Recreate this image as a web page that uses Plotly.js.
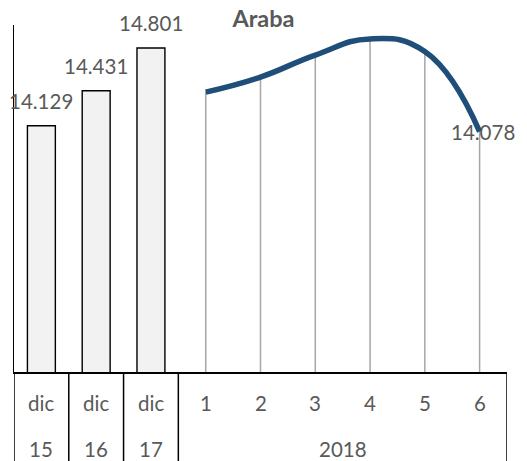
<!DOCTYPE html>
<html>
<head>
<meta charset="utf-8">
<script src="https://cdn.plot.ly/plotly-3.0.1.min.js"></script>
<style>html,body{margin:0;padding:0;background:#fff;}#chart{width:527px;height:461px;}</style>
</head>
<body>
<div id="chart"></div>
<script>
// Data
const categories = ['dic', 'dic', 'dic', '1', '2', '3', '4', '5', '6'];
const groupLabels = ['15', '16', '17', '2018'];
const groupSizes = [1, 1, 1, 6];
const barValues = [14.129, 14.431, 14.801];
const monthValues = [14.42, 14.55, 14.74, 14.88, 14.77, 14.078];
const yMin = 12, yMax = 15;
const titleText = 'Araba';

const FONT = 'Lato, "Open Sans", sans-serif';
const TXT = '#595959';

const barX = barValues.map((v, i) => i);
const monthX = monthValues.map((v, i) => barValues.length + i);

const traces = [
  {
    type: 'bar', x: barX, y: barValues, width: 0.51,
    marker: { color: '#f2f2f2', line: { color: '#000000', width: 1.4 } },
    hoverinfo: 'skip'
  },
  {
    type: 'scatter', mode: 'none', x: monthX, y: monthValues,
    error_y: {
      type: 'data', symmetric: false,
      array: monthValues.map(() => 0),
      arrayminus: monthValues.map(v => v - yMin),
      width: 0, color: '#a6a6a6', thickness: 1.5
    },
    hoverinfo: 'skip'
  },
  {
    type: 'scatter', mode: 'lines', x: monthX, y: monthValues,
    line: { color: '#1f4e79', width: 5.5, shape: 'spline', smoothing: 1.3 },
    hoverinfo: 'skip'
  }
];

const annotations = [];
barValues.forEach((v, i) => {
  annotations.push({ x: barX[i], y: v, xref: 'x', yref: 'y', text: v.toFixed(3),
    showarrow: false, yshift: 25, font: { family: FONT, size: 20.5, color: TXT } });
});
const lastI = monthValues.length - 1;
annotations.push({ x: monthX[lastI], y: monthValues[lastI], xref: 'x', yref: 'y',
  text: monthValues[lastI].toFixed(3), showarrow: false, xshift: 3,
  font: { family: FONT, size: 20.5, color: TXT } });

// category row
categories.forEach((c, i) => {
  annotations.push({ x: i, y: -0.0893, xref: 'x', yref: 'paper', text: c, showarrow: false,
    yanchor: 'middle', font: { family: FONT, size: 20.5, color: TXT } });
});
// group row + separators
const shapes = [];
let start = 0;
shapes.push({ type: 'line', xref: 'x', yref: 'paper', x0: -0.5, x1: -0.5, y0: 0, y1: -0.3,
  line: { color: '#000', width: 1.5 } });
groupLabels.forEach((g, k) => {
  const end = start + groupSizes[k] - 1;
  annotations.push({ x: (start + end) / 2, y: -0.222, xref: 'x', yref: 'paper', text: g,
    showarrow: false, yanchor: 'middle', font: { family: FONT, size: 20.5, color: TXT } });
  shapes.push({ type: 'line', xref: 'x', yref: 'paper', x0: end + 0.5, x1: end + 0.5, y0: 0, y1: -0.3,
    line: { color: '#000', width: 1.5 } });
  start = end + 1;
});

const layout = {
  width: 527, height: 461,
  margin: { l: 14, r: 20, t: 25, b: 89 },
  paper_bgcolor: '#fff', plot_bgcolor: '#fff',
  showlegend: false,
  title: { text: '<b>' + titleText + '</b>', x: 0.5, xref: 'container', y: 0.96, yanchor: 'middle',
    font: { family: FONT, size: 23.5, color: TXT } },
  xaxis: { range: [-0.5, categories.length - 0.5], showticklabels: false, ticks: '', showgrid: false,
    zeroline: false, showline: true, linecolor: '#000', linewidth: 1.5, fixedrange: true },
  yaxis: { range: [yMin, yMax], showticklabels: false, ticks: '', showgrid: false, zeroline: false,
    showline: true, linecolor: '#000', linewidth: 1.5, fixedrange: true },
  annotations: annotations,
  shapes: shapes,
  bargap: 0
};

Plotly.newPlot('chart', traces, layout, { displayModeBar: false, staticPlot: true });
</script>
</body>
</html>
